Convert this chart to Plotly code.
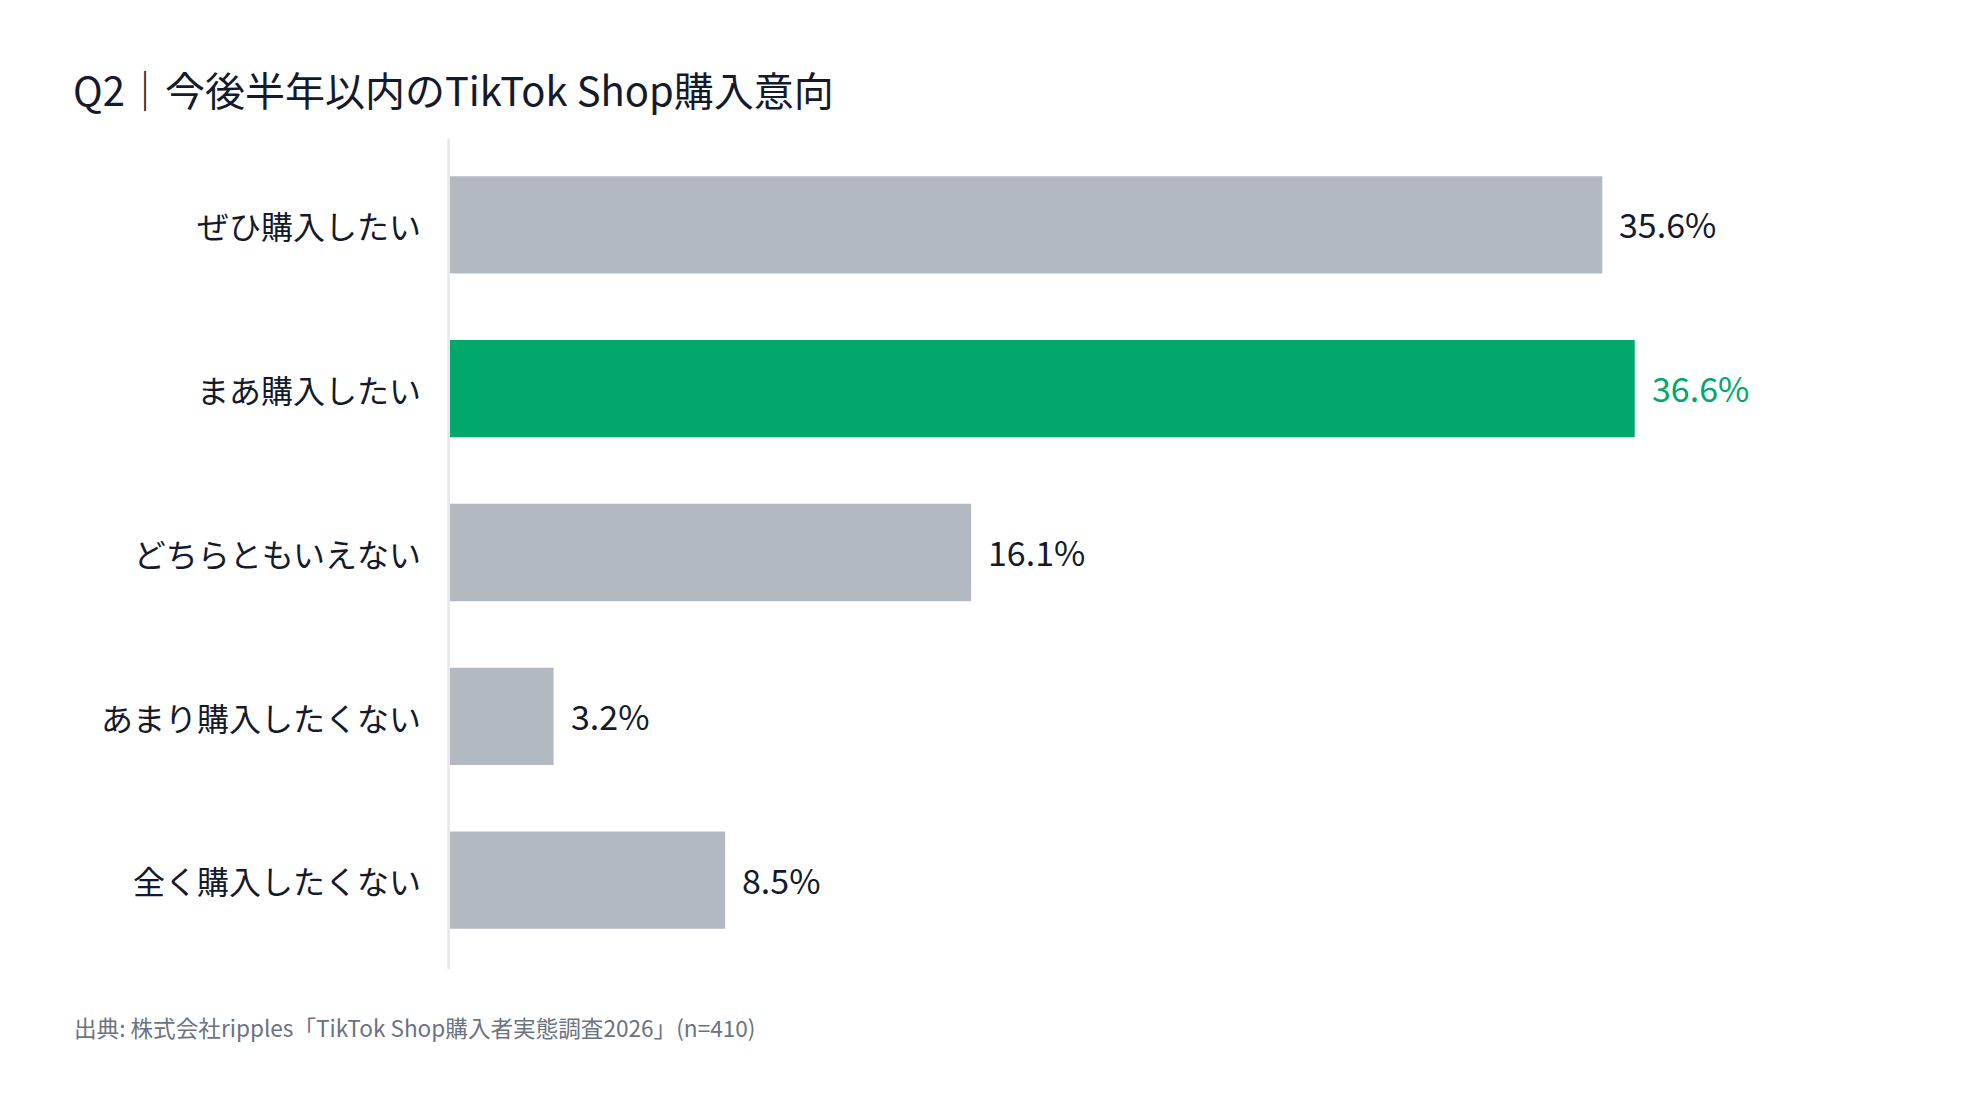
import plotly.graph_objects as go

categories = ["ぜひ購入したい", "まあ購入したい", "どちらともいえない", "あまり購入したくない", "全く購入したくない"]
values = [35.6, 36.6, 16.1, 3.2, 8.5]
value_labels = ["35.6%", "36.6%", "16.1%", "3.2%", "8.5%"]
highlight = [False, True, False, False, False]

GRAY = "#b3b9c1"
GREEN = "#00a86b"
TEXT = "#141a2b"
FONT = "Noto Sans CJK JP"

bar_colors = [GREEN if h else GRAY for h in highlight]
label_colors = [GREEN if h else TEXT for h in highlight]

W, H = 1978, 1113
L, T, B = 450, 143.4, 150.6
PLOT_H = H - T - B

fig = go.Figure(go.Bar(
    x=values, y=categories, orientation="h",
    marker=dict(color=bar_colors, line=dict(width=0)),
    hoverinfo="skip",
))

annotations = []
for c, v, t, col in zip(categories, values, value_labels, label_colors):
    annotations.append(dict(x=v, y=c, xref="x", yref="y", text=t, showarrow=False,
                            xanchor="left", yanchor="middle", xshift=15, yshift=1,
                            font=dict(family=FONT, size=34, color=col)))

annotations.append(dict(xref="paper", yref="paper", x=0, y=0, xanchor="left", yanchor="middle",
                        xshift=72 - L, yshift=-(1028 - (H - B)), showarrow=False,
                        text="出典: 株式会社ripples「TikTok Shop購入者実態調査2026」(n=410)",
                        font=dict(family=FONT, size=22.6, color="#6b7280")))

fig.update_layout(
    width=W, height=H,
    paper_bgcolor="white", plot_bgcolor="white",
    margin=dict(l=L, r=39.4, t=T, b=B, autoexpand=False),
    bargap=0.406,
    showlegend=False,
    font=dict(family=FONT, color=TEXT),
    title=dict(text="Q2｜今後半年以内のTikTok Shop購入意向", xref="container", yref="container",
               x=73 / W, xanchor="left", y=1 - 92 / H, yanchor="middle",
               font=dict(family=FONT, size=40, color=TEXT)),
    xaxis=dict(range=[0, 46], showgrid=False, zeroline=False, showticklabels=False,
               showline=False, ticks="", fixedrange=True),
    yaxis=dict(categoryorder="array", categoryarray=categories, autorange="reversed",
               showgrid=False, zeroline=False, showline=False,
               ticks="", ticklabelstandoff=28, ticklabelshift=-3, fixedrange=True,
               tickfont=dict(family=FONT, size=32, color=TEXT)),
    shapes=[dict(type="line", xref="paper", xsizemode="pixel", xanchor=0, x0=-1.4, x1=-1.4,
                 yref="paper", y0=-(969.3 - (H - B)) / PLOT_H, y1=1 + (T - 139) / PLOT_H,
                 line=dict(color="#e5e7eb", width=2.5), layer="above")],
    annotations=annotations,
)

fig.write_html("out.html", config={"displayModeBar": False},
               post_script="document.body.style.margin='0';")
